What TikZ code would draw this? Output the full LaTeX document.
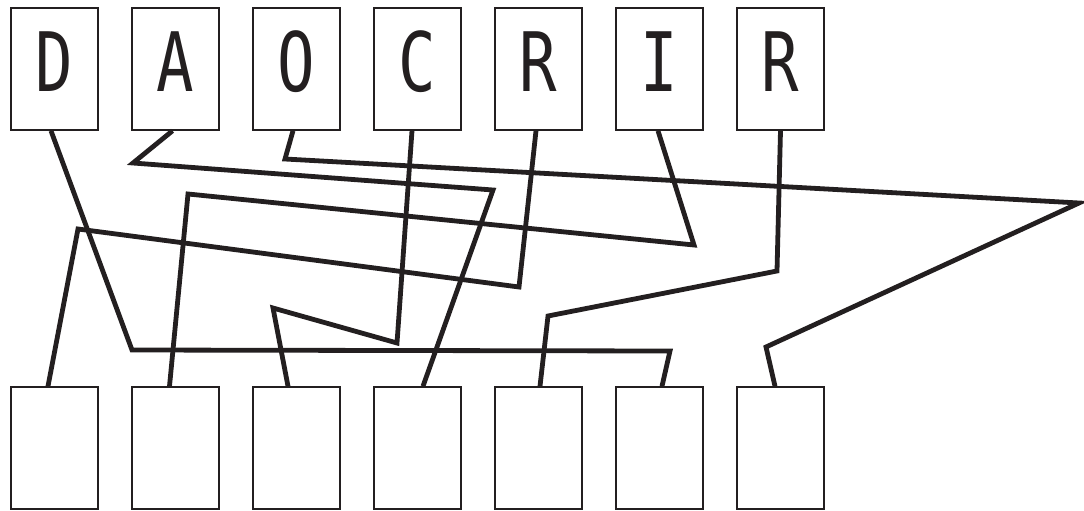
\documentclass[tikz,border=0pt]{standalone}
\usepackage{fontspec}
\setmonofont[FakeStretch=0.76]{DejaVu Sans Mono}
\usetikzlibrary{positioning}
\definecolor{inkBlack}{HTML}{231F20}

\begin{document}
\begin{tikzpicture}[x=1pt,y=-1pt,
  card/.style={draw=inkBlack, line width=1.6pt, inner sep=0pt, minimum width=87pt, minimum height=122pt,
    font=\ttfamily\fontsize{82}{82}\selectfont, text=inkBlack, text height=60pt, text depth=14pt},
  wire/.style={draw=inkBlack, line width=4.8pt},
]
\useasboundingbox (0,0) rectangle (1084,511);
% ---- top row (letters) and bottom row (empty) ----
\foreach \i/\lab in {0/D,1/A,2/O,3/C,4/R,5/I,6/R}{
  \node[card] (t\i) at (54.5+121*\i,69){\lab};
  \node[card] (b\i) at (54.5+121*\i,448){};
}
% ---- wires ----
\draw[wire] ([xshift=-3.5]t0.south) -- (132,350) -- (670,351) -- ([xshift=2.5]b5.north);
\draw[wire] ([xshift=-3]t1.south) -- (133,163) -- (493,190) -- ([xshift=5.5]b3.north);
\draw[wire] ([xshift=-3.5]t2.south) -- (285,159) -- (1079,203) -- (766,347) -- ([xshift=-5.5]b6.north);
\draw[wire] ([xshift=-5.5]t3.south) -- (397,343) -- (273,308) -- ([xshift=-8.5]b2.north);
\draw[wire] ([xshift=-2.5]t4.south) -- (519,287) -- (78,229) -- ([xshift=-6.5]b0.north);
\draw[wire] ([xshift=-1.5]t5.south) -- (694,245) -- (188,194) -- ([xshift=-6]b1.north);
\draw[wire] (t6.south) -- (777,271) -- (548,316) -- ([xshift=1.5]b4.north);
\end{tikzpicture}
\end{document}
